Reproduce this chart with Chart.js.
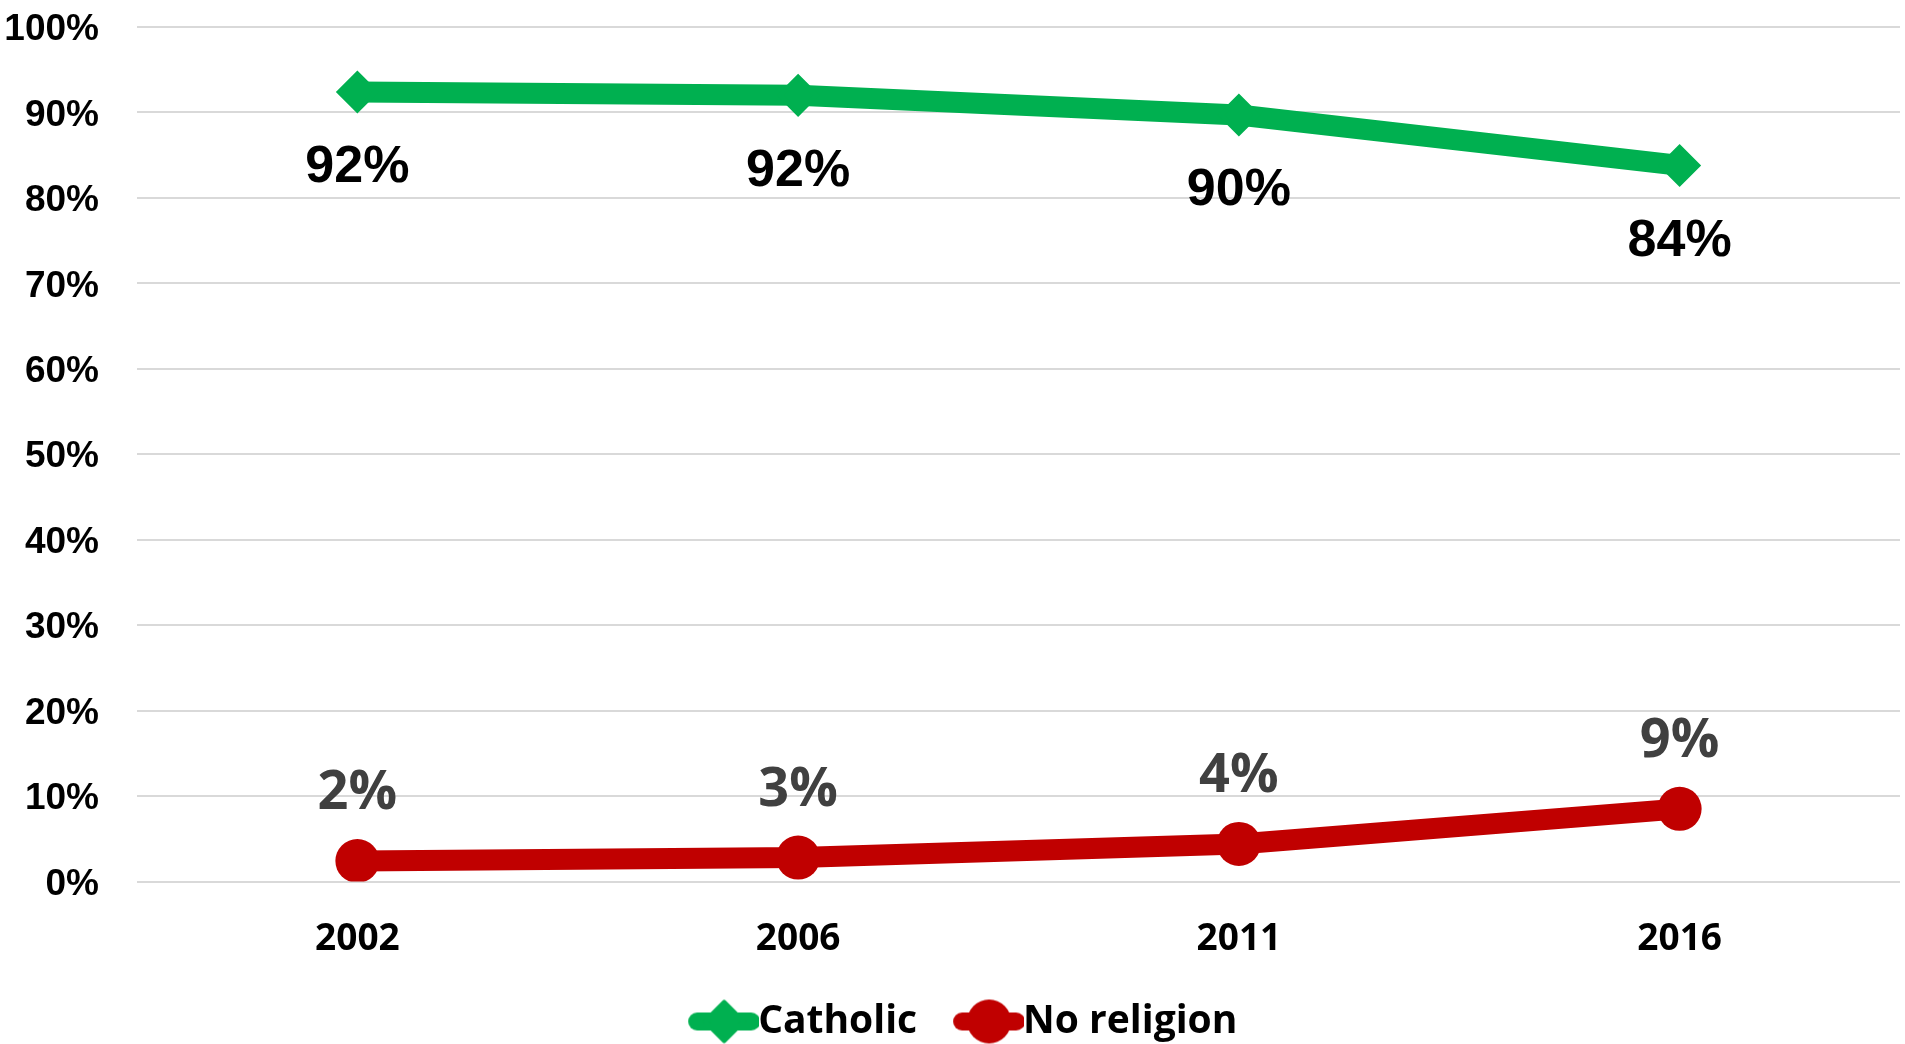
<!DOCTYPE html>
<html>
<head>
<meta charset="utf-8">
<script src="https://cdn.jsdelivr.net/npm/chart.js@4.4.0/dist/chart.umd.min.js"></script>
<style>
    html, body { margin: 0; padding: 0; background: #fff; overflow: hidden; }
    #wrap { width: 1905px; height: 1044px; }
    canvas { display: block; }
</style>
</head>
<body>
<div id="wrap"><canvas id="religion"></canvas></div>
<script>
// Data
const years = ['2002', '2006', '2011', '2016'];
const catholic = [92.4, 92.0, 89.7, 83.8];
const noReligion = [2.4, 2.8, 4.4, 8.5];
const catholicLabels = ['92%', '92%', '90%', '84%'];
const noReligionLabels = ['2%', '3%', '4%', '9%'];
const yTicks = [0, 10, 20, 30, 40, 50, 60, 70, 80, 90, 100];

const GREEN = '#00b050';
const RED = '#c00000';

// legend marker: short thick line with the point shape on top (Excel style)
// drawn inside a wider canvas so it sits right against the label text
function legendMarker(color, shape) {
    const c = document.createElement('canvas');
    c.width = 117; c.height = 46;
    const g = c.getContext('2d');
    const a = 46;
    g.strokeStyle = color;
    g.fillStyle = color;
    g.lineWidth = 18;
    g.lineCap = 'round';
    g.beginPath(); g.moveTo(a + 9, 23); g.lineTo(a + 63, 23); g.stroke();
    g.beginPath();
    if (shape === 'diamond') {
        g.lineJoin = 'round';
        g.lineWidth = 5;
        g.moveTo(a + 36, 4); g.lineTo(a + 55, 23); g.lineTo(a + 36, 42); g.lineTo(a + 17, 23); g.closePath();
        g.fill(); g.stroke();
    } else {
        g.arc(a + 36, 23, 22, 0, Math.PI * 2);
        g.fill();
    }
    return c;
}

// data labels drawn next to each point
const pointLabels = {
    id: 'pointLabels',
    afterDatasetsDraw(chart) {
        const ctx = chart.ctx;
        chart.data.datasets.forEach((ds, i) => {
            const meta = chart.getDatasetMeta(i);
            meta.data.forEach((pt, j) => {
                ctx.save();
                ctx.font = ds.labelFont;
                ctx.fillStyle = ds.labelColor;
                ctx.textAlign = 'center';
                ctx.textBaseline = 'middle';
                ctx.fillText(ds.labelText[j], pt.x, pt.y + ds.labelOffset);
                ctx.restore();
            });
        });
    }
};

const ctx = document.getElementById('religion').getContext('2d');

new Chart(ctx, {
    type: 'line',
    data: {
        labels: years,
        datasets: [{
            label: 'Catholic',
            data: catholic,
            borderColor: GREEN,
            backgroundColor: GREEN,
            borderWidth: 21,
            pointStyle: 'rectRot',
            pointRadius: 18,
            pointBorderWidth: 5,
            pointBorderColor: GREEN,
            pointBackgroundColor: GREEN,
            borderJoinStyle: 'round',
            labelText: catholicLabels,
            labelFont: 'bold 52px "Liberation Sans", Arial, sans-serif',
            labelColor: '#000',
            labelOffset: 76,
            legendImg: legendMarker(GREEN, 'diamond')
        }, {
            label: 'No religion',
            data: noReligion,
            borderColor: RED,
            backgroundColor: RED,
            borderWidth: 21,
            pointStyle: 'circle',
            pointRadius: 22,
            pointBorderWidth: 0,
            pointBackgroundColor: RED,
            labelText: noReligionLabels,
            labelFont: 'bold 54px "Open Sans", sans-serif',
            labelColor: '#404040',
            labelOffset: -67,
            legendImg: legendMarker(RED, 'circle')
        }]
    },
    options: {
        responsive: true,
        maintainAspectRatio: false,
        animation: false,
        layout: {
            autoPadding: false,
            padding: { top: 27, right: 5, left: 0, bottom: -7 }
        },
        scales: {
            x: {
                offset: true,
                grid: { display: false },
                border: { display: false },
                ticks: {
                    color: '#000',
                    padding: 28,
                    font: { family: '"Open Sans", sans-serif', size: 37, weight: 'bold' }
                },
                afterFit: scale => {
                    scale.height = 110;
                    scale.paddingLeft = 0;
                    scale.paddingRight = 0;
                }
            },
            y: {
                min: 0,
                max: 100,
                afterBuildTicks: scale => { scale.ticks = yTicks.map(v => ({ value: v })); },
                grid: { color: '#d9d9d9', lineWidth: 2, drawTicks: false },
                border: { display: false },
                ticks: {
                    color: '#000',
                    padding: 38,
                    labelOffset: 3,
                    callback: v => v + '%',
                    font: { family: '"Liberation Sans", Arial, sans-serif', size: 37, weight: 'bold' }
                },
                afterFit: scale => {
                    scale.width = 137;
                    scale.paddingTop = 0;
                    scale.paddingBottom = 0;
                }
            }
        },
        plugins: {
            legend: {
                position: 'bottom',
                labels: {
                    usePointStyle: true,
                    pointStyleWidth: 76,
                    padding: 10.5,
                    color: '#000',
                    font: { family: '"Open Sans", sans-serif', size: 39, weight: 'bold' },
                    generateLabels: chart => chart.data.datasets.map((ds, i) => ({
                        text: ds.label,
                        pointStyle: ds.legendImg,
                        fillStyle: ds.borderColor,
                        strokeStyle: ds.borderColor,
                        lineWidth: 0,
                        fontColor: '#000',
                        datasetIndex: i,
                        hidden: false
                    }))
                }
            },
            tooltip: { enabled: false }
        }
    },
    plugins: [pointLabels]
});
</script>
</body>
</html>
